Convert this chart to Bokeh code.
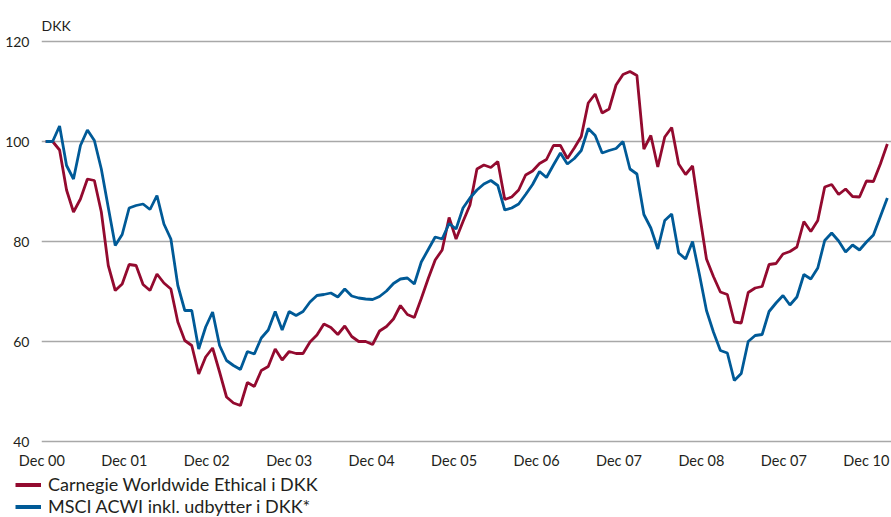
from bokeh.plotting import figure
from bokeh.layouts import column
from bokeh.models import (ColumnDataSource, FixedTicker, Legend, LegendItem, Range1d)
from bokeh.embed import file_html
from bokeh.resources import INLINE

# ---- data (monthly index, Dec 00 = 100) ----
carnegie = [
    100.0, 100.0, 98.3, 90.3, 85.9, 88.5, 92.5, 92.2, 85.9, 75.2,
    70.2, 71.5, 75.4, 75.2, 71.4, 70.2, 73.5, 71.7, 70.5, 63.9,
    60.2, 59.2, 53.5, 56.9, 58.7, 53.9, 48.9, 47.7, 47.2, 51.8,
    51.0, 54.2, 55.0, 58.5, 56.3, 58.0, 57.6, 57.6, 59.9, 61.3,
    63.5, 62.8, 61.4, 63.1, 61.0, 60.0, 60.0, 59.4, 62.1, 63.0,
    64.5, 67.2, 65.4, 64.8, 68.6, 72.6, 76.3, 78.3, 84.8, 80.5,
    84.0, 87.3, 94.5, 95.3, 94.8, 96.0, 88.4, 88.9, 90.3, 93.3,
    94.1, 95.6, 96.4, 99.2, 99.2, 96.6, 98.7, 101.0, 107.7, 109.5,
    105.7, 106.5, 111.3, 113.4, 114.0, 113.2, 98.5, 101.2, 94.9, 100.9,
    102.8, 95.5, 93.4, 95.1, 85.5, 76.5, 73.0, 69.9, 69.4, 63.9,
    63.7, 69.8, 70.7, 71.0, 75.4, 75.6, 77.5, 78.0, 78.9, 84.0,
    82.0, 84.2, 90.9, 91.4, 89.4, 90.5, 89.0, 88.9, 92.1, 92.0,
    95.5, 99.5,
]
msci = [
    100.0, 100.0, 103.1, 95.2, 92.5, 99.2, 102.3, 100.2, 94.5, 86.8,
    79.2, 81.4, 86.7, 87.2, 87.5, 86.4, 89.2, 83.5, 80.5, 71.2,
    66.2, 66.2, 58.5, 62.9, 65.9, 59.2, 56.2, 55.2, 54.4, 58.0,
    57.5, 60.7, 62.3, 66.0, 62.3, 66.0, 65.2, 66.0, 67.9, 69.2,
    69.4, 69.7, 68.9, 70.5, 69.1, 68.7, 68.5, 68.4, 69.0, 70.1,
    71.6, 72.5, 72.7, 71.5, 75.9, 78.4, 80.9, 80.5, 83.6, 82.5,
    86.7, 88.7, 90.3, 91.5, 92.2, 91.2, 86.3, 86.7, 87.5, 89.4,
    91.4, 94.0, 92.8, 95.3, 97.7, 95.5, 96.6, 98.2, 102.6, 101.2,
    97.7, 98.2, 98.6, 100.0, 94.5, 93.5, 85.4, 82.7, 78.5, 84.2,
    85.5, 77.7, 76.5, 80.0, 73.3, 66.2, 61.9, 58.2, 57.7, 52.2,
    53.6, 60.0, 61.2, 61.4, 66.0, 67.7, 69.2, 67.3, 68.9, 73.4,
    72.5, 74.7, 80.2, 81.7, 80.1, 77.9, 79.3, 78.3, 79.9, 81.3,
    85.0, 88.7,
]
tick_labels = ["Dec 00", "Dec 01", "Dec 02", "Dec 03", "Dec 04", "Dec 05",
               "Dec 06", "Dec 07", "Dec 08", "Dec 07", "Dec 10"]
y_ticks = [40, 60, 80, 100, 120]
series_names = ["Carnegie Worldwide Ethical i DKK", "MSCI ACWI inkl. udbytter i DKK*"]

RED = "#930A2F"
BLUE = "#005A97"
GRID = "#A8A8A8"
TEXT = "#231F20"
FONT = "Lato"

months = list(range(len(carnegie)))
src = ColumnDataSource(data=dict(m=months, carnegie=carnegie, msci=msci))

p = figure(width=891, height=472, output_backend="svg", toolbar_location=None,
           x_range=Range1d(-0.6, 121.6), y_range=Range1d(39.6, 120.6),
           min_border_left=41, min_border_right=0, min_border_top=38,
           min_border_bottom=29)
p.outline_line_color = None
p.background_fill_color = "white"
p.border_fill_color = "white"

r1 = p.line("m", "carnegie", source=src, line_color=RED, line_width=2.8)
r2 = p.line("m", "msci", source=src, line_color=BLUE, line_width=2.8)

# x axis: labels spread evenly across the period
step = 11.853
tick_pos = [round(k * step - 0.55, 3) for k in range(len(tick_labels))]
xa = p.xaxis[0]
xa.ticker = FixedTicker(ticks=tick_pos)
xa.major_label_overrides = {t: lab for t, lab in zip(tick_pos, tick_labels)}
xa.axis_line_color = None
xa.major_tick_line_color = None
xa.minor_tick_line_color = None
xa.major_tick_out = 0
xa.major_tick_in = 0
xa.major_label_standoff = 8
xa.major_label_text_font = FONT
xa.major_label_text_font_size = "14.5px"
xa.major_label_text_color = TEXT

ya = p.yaxis[0]
ya.ticker = FixedTicker(ticks=y_ticks)
ya.axis_line_color = None
ya.major_tick_line_color = None
ya.minor_tick_line_color = None
ya.major_tick_out = 0
ya.major_tick_in = 0
ya.major_label_standoff = 12
ya.major_label_text_font = FONT
ya.major_label_text_font_size = "14px"
ya.major_label_text_color = TEXT

p.xgrid.grid_line_color = None
p.ygrid.ticker = FixedTicker(ticks=y_ticks)
p.ygrid.grid_line_color = GRID
p.ygrid.grid_line_width = 1.3

p.title.text = "DKK"
p.title.align = "left"
p.title.text_font = FONT
p.title.text_font_size = "14px"
p.title.text_font_style = "normal"
p.title.text_color = TEXT
p.title.offset = 0
p.title.standoff = 9

# legend strip below the chart
nan = float("nan")
lf = figure(width=891, height=45, output_backend="svg", toolbar_location=None,
            x_range=Range1d(0, 1), y_range=Range1d(0, 1),
            x_axis_location=None, y_axis_location=None,
            min_border_left=0, min_border_right=0, min_border_top=0,
            min_border_bottom=0)
lf.outline_line_color = None
lf.xgrid.visible = False
lf.ygrid.visible = False
lf.background_fill_color = "white"
lf.border_fill_color = "white"
k1 = lf.line(x=[nan, nan], y=[nan, nan], line_color=RED, line_width=4)
k2 = lf.line(x=[nan, nan], y=[nan, nan], line_color=BLUE, line_width=4)

legend = Legend(items=[LegendItem(label=series_names[0], renderers=[k1]),
                       LegendItem(label=series_names[1], renderers=[k2])],
                location=(15, 0), orientation="vertical",
                label_text_font=FONT, label_text_font_size="18px",
                label_text_color=TEXT, glyph_width=26, glyph_height=21,
                label_height=21, label_standoff=7, spacing=0, padding=0,
                margin=0, border_line_color=None, background_fill_alpha=0)
lf.add_layout(legend, "center")

layout = column(p, column(lf, spacing=0), spacing=0)
open("out.html", "w").write(file_html(layout, INLINE))
